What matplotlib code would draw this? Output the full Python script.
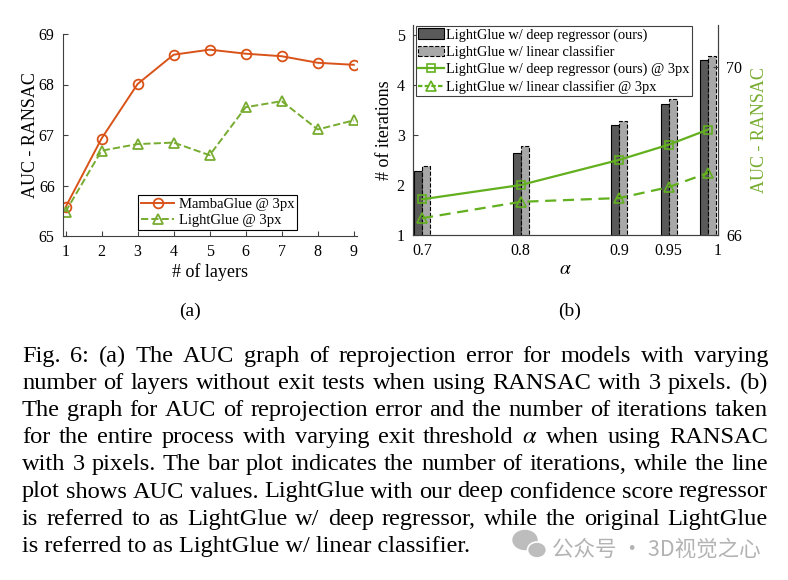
import matplotlib
matplotlib.use("Agg")
import matplotlib.pyplot as plt
from matplotlib.patches import Ellipse, Patch
from matplotlib.lines import Line2D

plt.rcParams['font.family'] = ['Liberation Serif', 'DejaVu Serif']
plt.rcParams['mathtext.fontset'] = 'stix'

# (a) AUC vs number of layers
layers = [1, 2, 3, 4, 5, 6, 7, 8, 9]
auc_mamba = [65.57, 66.93, 68.01, 68.59, 68.69, 68.61, 68.56, 68.43, 68.39]
auc_light = [65.48, 66.69, 66.82, 66.85, 66.60, 67.55, 67.67, 67.11, 67.29]

# (b) iterations / AUC vs exit threshold
alphas = [0.7, 0.8, 0.9, 0.95, 0.99]
alpha_ticks = [0.7, 0.8, 0.9, 0.95, 1]
alpha_ticklabels = ['0.7', '0.8', '0.9', '0.95', '1']
iters_deep = [2.28, 2.65, 3.20, 3.63, 4.50]
iters_linear = [2.39, 2.78, 3.29, 3.73, 4.59]
auc_deep = [66.85, 67.19, 67.79, 68.15, 68.51]
auc_linear = [66.40, 66.79, 66.88, 67.14, 67.48]

caption = [
    "Fig. 6:  (a) The AUC graph of reprojection error for models with varying",
    "number of layers without exit tests when using RANSAC with 3 pixels. (b)",
    "The graph for AUC of reprojection error and the number of iterations taken",
    r"for the entire process with varying exit threshold $\alpha$ when using RANSAC",
    "with 3 pixels. The bar plot indicates the number of iterations, while the line",
    "plot shows AUC values. LightGlue with our deep confidence score regressor",
    "is referred to as LightGlue w/ deep regressor, while the original LightGlue",
    "is referred to as LightGlue w/ linear classifier.",
]
watermark = "公众号 · 3D视觉之心"

W, H = 788, 580
orange = '#D95319'
green_a = '#77AC30'
green_b = '#62B01E'
spine_c = '#404040'

fig = plt.figure(figsize=(W / 100, H / 100), dpi=100)


def box(l, t, r, b):
    return [l / W, 1 - b / H, (r - l) / W, (b - t) / H]


def style(ax):
    ax.tick_params(direction='in', length=3.5, width=0.8, colors=spine_c,
                   labelcolor='black', labelsize=11.5, pad=6)
    for s in ax.spines.values():
        s.set_color(spine_c)
        s.set_linewidth(0.8)


# ---- (a)
ax1 = fig.add_axes(box(63, 34, 357, 236))
ax1.plot(layers, auc_mamba, '-o', color=orange, lw=1.4, ms=7, mfc='none',
         mew=1.3, label='MambaGlue @ 3px')
ax1.plot(layers, auc_light, '--^', color=green_a, lw=1.4, ms=7.5, mfc='none',
         mew=1.3, label='LightGlue @ 3px')
ax1.set_xlim(0.93, 9.09)
ax1.set_ylim(65, 69)
ax1.set_xticks(layers)
ax1.set_yticks([65, 66, 67, 68, 69])
ax1.spines['top'].set_visible(False)
ax1.spines['right'].set_visible(False)
style(ax1)
ax1.set_xlabel('# of layers', fontsize=13, labelpad=2)
ax1.set_ylabel('AUC - RANSAC', fontsize=13, labelpad=0)
leg1 = ax1.legend(loc='lower left', bbox_to_anchor=(0.255, 0.03), fontsize=10.5,
                  fancybox=False, edgecolor='black', framealpha=1,
                  borderpad=0.2, labelspacing=0.2, handlelength=2.3,
                  handletextpad=0.3, borderaxespad=0)
leg1.get_frame().set_linewidth(0.8)

# ---- (b)
ax2 = fig.add_axes(box(413, 25, 718, 235))
bw = 0.008
xd = [a - bw / 2 for a in alphas]
xl = [a + bw / 2 for a in alphas]
ax2.bar(xd, iters_deep, width=bw, bottom=0, color='#5A5A5A', edgecolor='black',
        lw=0.8, zorder=2)
ax2.bar(xl, iters_linear, width=bw, bottom=0, color='#A8A8A8', edgecolor='black',
        lw=0.8, linestyle='--', zorder=2)
ax2.set_xlim(0.6908, 1.0)
ax2.set_ylim(1, 5.2)
ax2.set_yticks([1, 2, 3, 4, 5])
ax2.set_xticks(alpha_ticks)
ax2.set_xticklabels(alpha_ticklabels)
ax2.spines['top'].set_visible(False)
style(ax2)
ax2.set_ylabel('# of iterations', fontsize=13, labelpad=3)
ax2.set_xlabel(r'$\alpha$', fontsize=14, labelpad=1)

ax3 = ax2.twinx()
ax3.plot(alphas, auc_deep, '-s', color=green_b, lw=1.6, ms=5.5, mfc='none',
         mew=1.2)
ax3.plot(alphas, auc_linear, '^', color=green_b, ls=(0, (5, 3)), lw=1.6,
         ms=7.5, mfc='none', mew=1.2)
ax3.set_ylim(66, 71)
ax3.set_yticks([66, 70])
ax3.spines['top'].set_visible(False)
style(ax3)
ax3.set_ylabel('AUC - RANSAC', fontsize=13, color=green_a, labelpad=6)

handles = [
    Patch(facecolor='#5A5A5A', edgecolor='black', lw=0.8),
    Patch(facecolor='#A8A8A8', edgecolor='black', lw=0.8, linestyle='--'),
    Line2D([], [], color=green_b, lw=1.6, marker='s', ms=5.5, mfc='none', mew=1.2),
    Line2D([], [], color=green_b, lw=1.6, ls=(0, (2, 1)), marker='^', ms=7,
           mfc='none', mew=1.2),
]
labels = ['LightGlue w/ deep regressor (ours)', 'LightGlue w/ linear classifier',
          'LightGlue w/ deep regressor (ours) @ 3px',
          'LightGlue w/ linear classifier @ 3px']
leg2 = ax3.legend(handles, labels, loc='upper left', bbox_to_anchor=(0.01, 0.995),
                  fontsize=10.4, fancybox=False, edgecolor='#404040', framealpha=1,
                  borderpad=0.15, labelspacing=0.25, handlelength=1.8,
                  handletextpad=0.15, borderaxespad=0)
leg2.get_frame().set_linewidth(0.8)

fig.text(190 / W, 1 - 311 / H, '(a)', fontsize=14, ha='center', va='center')
fig.text(570 / W, 1 - 311 / H, '(b)', fontsize=14, ha='center', va='center')

# ---- caption, justified between x0 and x1
renderer = fig.canvas.get_renderer()
x0, x1 = 22, 768
base0, step = 362, 27.1
fs = 17.6
for i, line in enumerate(caption):
    yb = 1 - (base0 + i * step) / H
    words = [w for w in line.split(' ') if w]
    if i == len(caption) - 1:
        fig.text(x0 / W, yb, line, fontsize=fs, va='baseline')
        continue
    texts = [fig.text(0, yb, w, fontsize=fs, va='baseline') for w in words]
    widths = [t.get_window_extent(renderer).width for t in texts]
    gap = (x1 - x0 - sum(widths)) / (len(words) - 1)
    x = x0
    for t, w in zip(texts, widths):
        t.set_x(x / W)
        x += w + gap

# ---- watermark
fig.patches.append(Ellipse((525 / W, 1 - 540 / H), 24 / W, 19 / H,
                           transform=fig.transFigure, color='#BDBDBD'))
fig.patches.append(Ellipse((537 / W, 1 - 550 / H), 19 / W, 16 / H,
                           transform=fig.transFigure, facecolor='#BDBDBD',
                           edgecolor='white', lw=1.2))
fig.text(552 / W, 1 - 549 / H, watermark, fontsize=15.5, color='#B3B3B3',
         va='center', family=['Noto Sans CJK SC', 'DejaVu Sans'])

fig.savefig('out.png', dpi=100)
